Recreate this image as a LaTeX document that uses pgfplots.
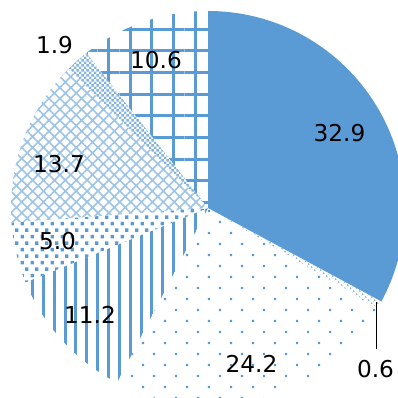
\documentclass[border=0pt]{standalone}
\usepackage{pgfplots}
\usepackage{pgfplotstable}
\pgfplotsset{compat=1.18}
\usetikzlibrary{patterns.meta}
\usepackage{fontspec}
\setmainfont{DejaVu Sans}

\definecolor{pieblue}{HTML}{5B9BD5}

% staggered small squares
\tikzdeclarepattern{
  name=smallsquares,
  type=uncolored,
  bounding box={(0pt,0pt) and (10pt,13.4pt)},
  tile size={(10pt,13.4pt)},
  code={
    \fill (0.7pt,0.7pt) rectangle (4.3pt,4.3pt);
    \fill (5.7pt,7.4pt) rectangle (9.3pt,11pt);
  }
}
% fine checkerboard
\tikzdeclarepattern{
  name=finechecker,
  type=uncolored,
  bounding box={(0pt,0pt) and (5.4pt,5.4pt)},
  tile size={(5.4pt,5.4pt)},
  code={
    \fill (0pt,0pt) rectangle (2.7pt,2.7pt);
    \fill (2.7pt,2.7pt) rectangle (5.4pt,5.4pt);
  }
}

\tikzset{
  slice0/.style={fill=pieblue},
  slice1/.style={pattern={Dots[angle=45,distance=4pt,radius=1.1pt]}, pattern color=pieblue!70},
  slice2/.style={pattern={Dots[angle=45,distance=15.56pt,radius=1.5pt]}, pattern color=pieblue},
  slice3/.style={pattern={Lines[angle=90,distance=10.85pt,line width=3pt]}, pattern color=pieblue},
  slice4/.style={pattern=smallsquares, pattern color=pieblue},
  slice5/.style={pattern={Hatch[angle=45,distance=7.7pt,line width=1.6pt]}, pattern color=pieblue!60},
  slice6/.style={pattern=finechecker, pattern color=pieblue!75},
  slice7/.style={pattern={Hatch[angle=0,distance=21.7pt,line width=3pt]}, pattern color=pieblue},
}

% shares, clockwise from twelve o'clock
\pgfplotstableread{
val
32.9
0.6
24.2
11.2
5.0
13.7
1.9
10.6
}\piedata

% total and cumulative slice angles
\xdef\pietotal{0}
\foreach \i in {0,...,7}{%
  \pgfplotstablegetelem{\i}{val}\of\piedata
  \pgfmathsetmacro\tmp{\pietotal+\pgfplotsretval}%
  \xdef\pietotal{\tmp}%
}
\xdef\pieacc{90}
\foreach \i in {0,...,7}{%
  \pgfplotstablegetelem{\i}{val}\of\piedata
  \pgfmathsetmacro\tmp{\pieacc-360*\pgfplotsretval/\pietotal}%
  \expandafter\xdef\csname piestart\i\endcsname{\pieacc}%
  \expandafter\xdef\csname pieend\i\endcsname{\tmp}%
  \xdef\pieacc{\tmp}%
}

\begin{document}
\begin{tikzpicture}
\begin{axis}[
  scale only axis,
  width=398pt, height=398pt,
  xmin=0, xmax=398, ymin=0, ymax=398,
  hide axis,
  clip=true,
]
\pgfplotsinvokeforeach{0,...,7}{
  \fill[slice#1] (axis cs:208,190) -- ++(\csname piestart#1\endcsname:197pt)
    arc[start angle=\csname piestart#1\endcsname, end angle=\csname pieend#1\endcsname, radius=197pt] -- cycle;
}
% leader line for the thin slice
\draw[black, line width=1pt] (axis cs:376.7,96.3) -- (axis cs:376.7,49);

\begin{scope}[every node/.style={inner sep=0pt, font=\fontsize{23.2}{27}\selectfont, text=black}]
\node at (axis cs:339.5,264.5) {32.9};
\node at (axis cs:375.5,29) {0.6};
\node at (axis cs:251.5,34) {24.2};
\node at (axis cs:90,83.5) {11.2};
\node at (axis cs:57.5,157) {5.0};
\node at (axis cs:59,234) {13.7};
\node at (axis cs:54.5,352.5) {1.9};
\node at (axis cs:156,338) {10.6};
\end{scope}
\end{axis}
\pgfresetboundingbox
\path[use as bounding box] (current axis.south west) rectangle (current axis.north east);
\end{tikzpicture}
\end{document}
